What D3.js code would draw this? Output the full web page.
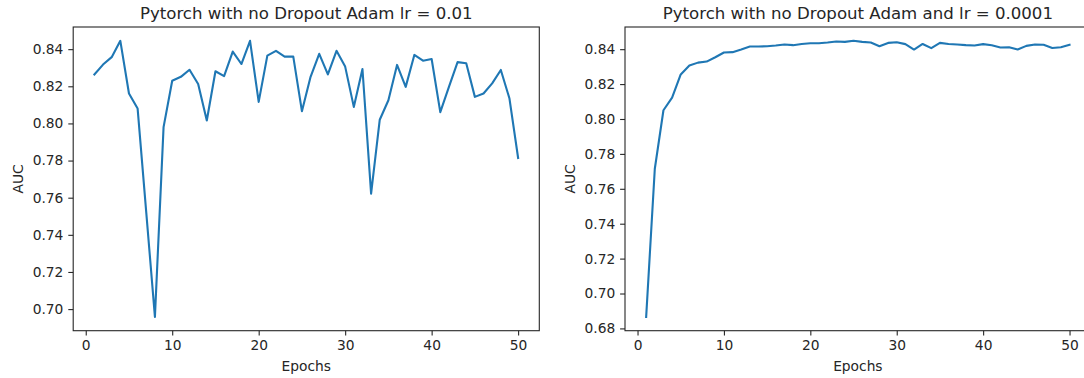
<!DOCTYPE html>
<html>
<head>
<meta charset="utf-8">
<script src="https://d3js.org/d3.v7.min.js"></script>
<style>
  body { margin: 0; background: #fff; }
  svg { display: block; font-family: "DejaVu Sans", sans-serif; }
</style>
</head>
<body>
<div id="chart"></div>
<script>
// AUC per epoch
var epochs = d3.range(1, 51);
var aucLr001 = [0.8264, 0.8317, 0.8357, 0.8445, 0.8161, 0.8080, 0.7520, 0.6958, 0.7980, 0.8230,
                0.8251, 0.8289, 0.8212, 0.8016, 0.8281, 0.8255, 0.8387, 0.8320, 0.8445, 0.8116,
                0.8365, 0.8391, 0.8360, 0.8360, 0.8066, 0.8251, 0.8375, 0.8264, 0.8391, 0.8306,
                0.8089, 0.8293, 0.7622, 0.8020, 0.8125, 0.8315, 0.8197, 0.8369, 0.8338, 0.8347,
                0.8061, 0.8197, 0.8330, 0.8324, 0.8143, 0.8161, 0.8216, 0.8288, 0.8134, 0.7814];
var aucLr00001 = [0.6866, 0.7715, 0.8050, 0.8122, 0.8255, 0.8306, 0.8323, 0.8329, 0.8354, 0.8381,
                  0.8383, 0.8398, 0.8415, 0.8415, 0.8417, 0.8421, 0.8427, 0.8423, 0.8430, 0.8434,
                  0.8434, 0.8438, 0.8444, 0.8442, 0.8448, 0.8442, 0.8438, 0.8417, 0.8436, 0.8440,
                  0.8429, 0.8398, 0.8430, 0.8406, 0.8436, 0.8430, 0.8427, 0.8423, 0.8421, 0.8429,
                  0.8423, 0.8410, 0.8411, 0.8398, 0.8419, 0.8427, 0.8425, 0.8407, 0.8411, 0.8425];
var xTicks = [0, 10, 20, 30, 40, 50];
var yTicksLeft = [0.70, 0.72, 0.74, 0.76, 0.78, 0.80, 0.82, 0.84];
var yTicksRight = [0.68, 0.70, 0.72, 0.74, 0.76, 0.78, 0.80, 0.82, 0.84];
var titles = ["Pytorch with no Dropout Adam lr = 0.01", "Pytorch with no Dropout Adam and lr = 0.0001"];

var width = 1084, height = 378;
var svg = d3.select("#chart").append("svg")
    .attr("width", width)
    .attr("height", height);

var panels = [
  {left: 73.2, right: 539.3, values: aucLr001, yTicks: yTicksLeft, title: titles[0]},
  {left: 625, right: 1090.7, values: aucLr00001, yTicks: yTicksRight, title: titles[1]}
];
var plotTop = 27, plotBottom = 330.7;
var textColor = "#262626";

panels.forEach(function(p) {
  // matplotlib style 5% margins
  var xPad = (d3.max(epochs) - d3.min(epochs)) * 0.05;
  var x = d3.scaleLinear()
      .domain([d3.min(epochs) - xPad, d3.max(epochs) + xPad])
      .range([p.left, p.right]);
  var ext = d3.extent(p.values);
  var yPad = (ext[1] - ext[0]) * 0.05;
  var y = d3.scaleLinear()
      .domain([ext[0] - yPad, ext[1] + yPad])
      .range([plotBottom, plotTop]);

  var g = svg.append("g");

  var xAxis = g.append("g")
      .attr("transform", "translate(0," + plotBottom + ")")
      .call(d3.axisBottom(x).tickValues(xTicks).tickFormat(d3.format("d"))
            .tickSize(4.9).tickPadding(4.9));
  var yAxis = g.append("g")
      .attr("transform", "translate(" + p.left + ",0)")
      .call(d3.axisLeft(y).tickValues(p.yTicks).tickFormat(d3.format(".2f"))
            .tickSize(4.9).tickPadding(4.9));

  [xAxis, yAxis].forEach(function(a) {
    a.select(".domain").remove();
    a.selectAll(".tick line").attr("stroke", textColor).attr("stroke-width", 1.1);
    a.selectAll(".tick text")
        .attr("fill", textColor)
        .style("font-size", "13.8px")
        .style("font-family", "DejaVu Sans, sans-serif");
  });

  // frame
  g.append("rect")
      .attr("x", p.left)
      .attr("y", plotTop)
      .attr("width", p.right - p.left)
      .attr("height", plotBottom - plotTop)
      .attr("fill", "none")
      .attr("stroke", textColor)
      .attr("stroke-width", 1.1);

  var line = d3.line()
      .x(function(d, i) { return x(epochs[i]); })
      .y(function(d) { return y(d); });

  g.append("path")
      .datum(p.values)
      .attr("d", line)
      .attr("fill", "none")
      .attr("stroke", "#1f77b4")
      .attr("stroke-width", 2.1)
      .attr("stroke-linejoin", "round")
      .attr("stroke-linecap", "square");

  var cx = (p.left + p.right) / 2;

  g.append("text")
      .attr("x", cx)
      .attr("y", 19)
      .attr("text-anchor", "middle")
      .attr("fill", textColor)
      .style("font-size", "16.6px")
      .text(p.title);

  g.append("text")
      .attr("x", cx)
      .attr("y", 371)
      .attr("text-anchor", "middle")
      .attr("fill", textColor)
      .style("font-size", "13.8px")
      .text("Epochs");

  g.append("text")
      .attr("transform", "translate(" + (p.left - 50) + "," + ((plotTop + plotBottom) / 2) + ") rotate(-90)")
      .attr("text-anchor", "middle")
      .attr("fill", textColor)
      .style("font-size", "13.8px")
      .text("AUC");
});
</script>
</body>
</html>
